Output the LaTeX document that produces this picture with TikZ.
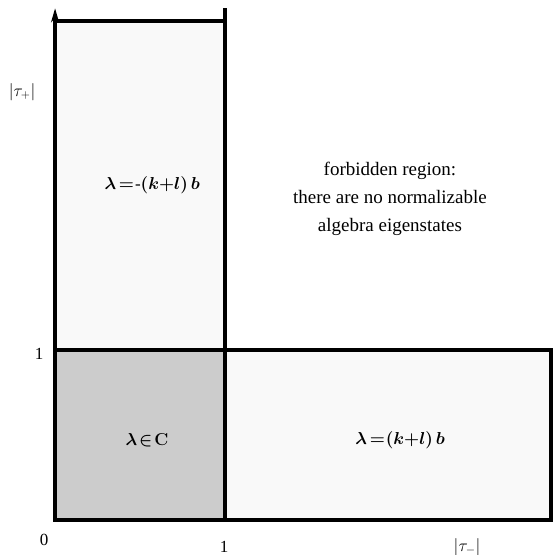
\documentclass[tikz,border=0pt]{standalone}
\usepackage{fontspec}
\setmainfont{Liberation Serif}
\usepackage{amsmath}
\usepackage{bm}
\usetikzlibrary{arrows.meta}

\begin{document}
\begin{tikzpicture}[x=170pt, y=170pt, every node/.style={font=\fontsize{17}{20}\selectfont},
  wall/.style={line width=3.5pt, line cap=rect}]
\useasboundingbox (-0.324,-0.206) rectangle (2.947,3.059);
% shaded regions
\fill[gray!5] (0,1) rectangle (1,2.935);
\fill[gray!5] (1,0) rectangle (2.918,1);
\fill[gray!40] (0,0) rectangle (1,1);
% vertical axis
\draw[line width=3.5pt, -{Stealth[length=14pt,width=8pt]}] (0,0) -- (0,3.01);
% boxes
\draw[wall] (0,2.935) -- (1,2.935);
\draw[wall] (1,3.0) -- (1,0);
\draw[wall] (0,1) -- (2.918,1) -- (2.918,0);
\draw[wall] (0,0) -- (2.918,0);
% axis labels
\node (tauplus) at (-0.194,2.518) {$|\tau_+|$};
\node (oneleft) at (-0.094,0.976) {1};
\node (zero) at (-0.065,-0.118) {0};
\node (onebottom) at (0.994,-0.159) {1};
\node (tauminus) at (2.424,-0.159) {$|\tau_-|$};
% region labels
\node (upper) at (0.571,1.97) {$\bm{\lambda\mskip3mu{=}\mskip1mu\text{-}(k{+}l)\,b}$};
\node (complex) at (0.541,0.47) {$\bm{\lambda\mskip2mu{\in}\mskip2mu\mathbf{C}}$};
\node (right) at (2.03,0.47) {$\bm{\lambda\mskip3mu{=}\mskip1mu(k{+}l)\,b}$};
% forbidden region
\node[align=center, font=\fontsize{19}{28}\selectfont] (forbidden) at (1.97,1.888)
  {forbidden region:\\there are no normalizable\\algebra eigenstates};
\end{tikzpicture}
\end{document}
